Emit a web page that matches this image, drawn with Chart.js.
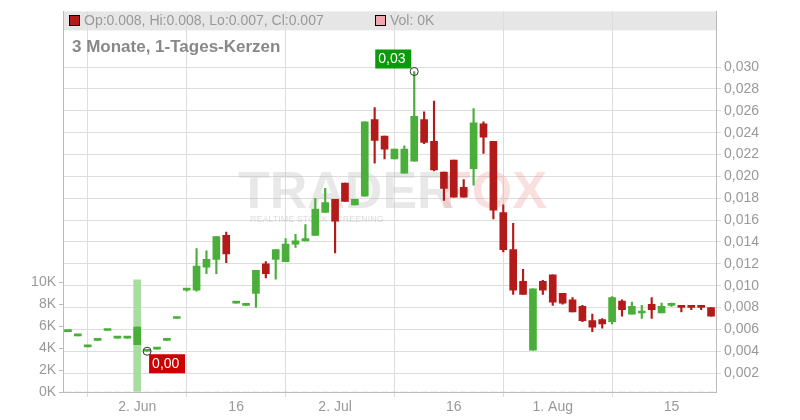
<!DOCTYPE html>
<html><head><meta charset="utf-8">
<script src="https://cdn.jsdelivr.net/npm/chart.js@4/dist/chart.umd.min.js"></script>
<style>body{margin:0;background:#fff}#wrap{width:800px;height:420px}</style>
</head><body><div id="wrap"><canvas id="c"></canvas></div>
<script>
// OHLC per trading day (index 0 = 27 May)
const opens  = [0.0058,0.0054,0.0044,0.0050,0.0059,0.0052,0.0052,0.0046,0.0040,0.0042,0.0050,0.0070,0.0096,0.0096,0.0117,0.0124,0.0146,0.0084,0.0082,0.0093,0.0120,0.0124,0.0122,0.0138,0.0141,0.0146,0.0167,0.0179,0.0194,0.0174,0.0182,0.0252,0.0237,0.0216,0.0203,0.0214,0.0252,0.0232,0.0204,0.0215,0.0190,0.0207,0.0248,0.0232,0.0167,0.0133,0.0104,0.0041,0.0104,0.0110,0.0093,0.0087,0.0081,0.0068,0.0069,0.0067,0.0086,0.0074,0.0075,0.0083,0.0075,0.0082,0.0082,0.0082,0.0082,0.0080];
const highs  = [0.0058,0.0054,0.0044,0.0050,0.0059,0.0052,0.0052,0.0062,0.0040,0.0042,0.0050,0.0070,0.0097,0.0134,0.0132,0.0145,0.0149,0.0084,0.0082,0.0114,0.0122,0.0133,0.0143,0.0147,0.0156,0.0180,0.0189,0.0179,0.0194,0.0179,0.0250,0.0263,0.0237,0.0225,0.0228,0.0296,0.0259,0.0269,0.0204,0.0215,0.0197,0.0262,0.0250,0.0232,0.0174,0.0157,0.0115,0.0097,0.0105,0.0110,0.0093,0.0089,0.0082,0.0074,0.0070,0.0090,0.0087,0.0085,0.0082,0.0089,0.0084,0.0084,0.0082,0.0082,0.0082,0.0080];
const lows   = [0.0058,0.0054,0.0044,0.0050,0.0059,0.0052,0.0052,0.0046,0.0040,0.0042,0.0050,0.0070,0.0095,0.0095,0.0111,0.0111,0.0121,0.0084,0.0082,0.0080,0.0107,0.0106,0.0122,0.0135,0.0141,0.0146,0.0167,0.0130,0.0177,0.0174,0.0182,0.0212,0.0216,0.0216,0.0203,0.0214,0.0230,0.0205,0.0178,0.0181,0.0181,0.0192,0.0221,0.0161,0.0131,0.0092,0.0092,0.0041,0.0092,0.0082,0.0083,0.0076,0.0067,0.0058,0.0061,0.0065,0.0072,0.0074,0.0070,0.0070,0.0075,0.0081,0.0076,0.0078,0.0078,0.0072];
const closes = [0.0058,0.0054,0.0044,0.0050,0.0059,0.0052,0.0052,0.0062,0.0040,0.0042,0.0050,0.0070,0.0097,0.0118,0.0124,0.0145,0.0129,0.0084,0.0082,0.0114,0.0111,0.0133,0.0138,0.0141,0.0143,0.0170,0.0176,0.0159,0.0177,0.0179,0.0250,0.0233,0.0225,0.0225,0.0225,0.0255,0.0231,0.0206,0.0189,0.0181,0.0181,0.0249,0.0236,0.0169,0.0133,0.0096,0.0092,0.0097,0.0096,0.0085,0.0084,0.0076,0.0068,0.0062,0.0065,0.0089,0.0078,0.0081,0.0076,0.0078,0.0081,0.0083,0.0080,0.0080,0.0080,0.0072];
const volumes = opens.map((v, i) => i === 7 ? 10.2 : 0); // in K, only one day traded visibly
const dateTicks = [7, 17, 27, 39, 49, 61];
const dateLabels = ['2. Jun', '16', '2. Jul', '16', '1. Aug', '15'];
const priceTicks = [0.002,0.004,0.006,0.008,0.010,0.012,0.014,0.016,0.018,0.020,0.022,0.024,0.026,0.028,0.030];
const volTicks = [0, 2, 4, 6, 8, 10];

const GREEN = '#4aae3a', RED = '#b31b1b', GREY = '#999';
const colorOf = i => closes[i] >= opens[i] ? GREEN : RED;

const wicks = opens.map((o, i) => ({ x: i, y: [lows[i], highs[i]] }));
const bodies = opens.map((o, i) => ({ x: i, y: [o, closes[i]] }));
const vols = volumes.map((v, i) => ({ x: i, y: v }));

const extras = {
  id: 'extras',
  beforeDraw(chart) {
    const { ctx, chartArea: a } = chart;
    ctx.save();
    ctx.fillStyle = '#e6e6e6';
    ctx.fillRect(a.left, a.top, a.right - a.left, 19);
    ctx.restore();
  },
  beforeDatasetsDraw(chart) {
    const { ctx } = chart;
    ctx.save();
    // watermark
    ctx.font = 'bold 52px "Liberation Sans"';
    ctx.fillStyle = 'rgba(190,190,190,0.35)';
    ctx.fillText('TRADER', 238, 208);
    ctx.fillStyle = 'rgba(240,150,150,0.3)';
    ctx.fillText('FOX', 440, 208);
    ctx.font = '9px "Liberation Sans"';
    ctx.fillStyle = 'rgba(190,190,190,0.5)';
    ctx.fillText('REALTIME STOCK SCREENING', 250, 222);
    ctx.restore();
  },
  afterDraw(chart) {
    const { ctx } = chart;
    const xs = chart.scales.x, ys = chart.scales.y;
    ctx.save();
    ctx.font = '14px "Liberation Sans"';
    ctx.textBaseline = 'middle';
    ctx.fillStyle = RED; ctx.fillRect(69, 15, 10, 10);
    ctx.strokeStyle = '#000'; ctx.lineWidth = 1; ctx.strokeRect(69.5, 15.5, 10, 10);
    ctx.fillStyle = GREY; ctx.fillText('Op:0.008, Hi:0.008, Lo:0.007, Cl:0.007', 84, 21);
    ctx.fillStyle = '#f0a8b0'; ctx.fillRect(375, 15, 10, 10);
    ctx.strokeRect(375.5, 15.5, 10, 10);
    ctx.fillStyle = GREY; ctx.fillText('Vol: 0K', 390, 21);
    ctx.font = 'bold 17px "Liberation Sans"';
    ctx.fillStyle = '#888'; ctx.fillText('3 Monate, 1-Tages-Kerzen', 72, 47);
    // high marker
    const hx = xs.getPixelForValue(35), hy = ys.getPixelForValue(highs[35]);
    ctx.strokeStyle = '#333';
    ctx.beginPath(); ctx.arc(hx, hy, 4, 0, Math.PI * 2); ctx.stroke();
    ctx.font = '14px "Liberation Sans"';
    ctx.fillStyle = '#0a9a0a'; ctx.fillRect(hx - 39, hy - 22, 36, 19);
    ctx.fillStyle = '#fff'; ctx.fillText('0,03', hx - 36, hy - 12);
    // low marker
    const lx = xs.getPixelForValue(8), ly = ys.getPixelForValue(lows[8]);
    ctx.beginPath(); ctx.arc(lx, ly, 4, 0, Math.PI * 2); ctx.stroke();
    ctx.fillStyle = '#cc0000'; ctx.fillRect(lx + 2, ly + 3, 36, 19);
    ctx.fillStyle = '#fff'; ctx.fillText('0,00', lx + 5, ly + 13);
    ctx.restore();
  }
};

new Chart(document.getElementById('c'), {
  type: 'bar',
  data: {
    datasets: [
      { data: vols, yAxisID: 'vol', backgroundColor: '#a8dca0', barThickness: 7, order: 3 },
      { data: wicks, yAxisID: 'y', backgroundColor: opens.map((o, i) => colorOf(i)), barThickness: 1.5, order: 2 },
      { data: bodies, yAxisID: 'y', backgroundColor: opens.map((o, i) => colorOf(i)), barThickness: 7, minBarLength: 2, order: 1 }
    ]
  },
  options: {
    responsive: true, maintainAspectRatio: false, animation: false,
    layout: { padding: { top: 11, left: 0, right: 0, bottom: 0 } },
    plugins: { legend: { display: false }, tooltip: { enabled: false } },
    datasets: { bar: { grouped: false } },
    scales: {
      x: {
        type: 'linear', min: -0.5, max: 65.5, offset: false,
        afterBuildTicks: s => { s.ticks = dateTicks.map(v => ({ value: v })); },
        afterFit: s => { s.height = 28; },
        ticks: { autoSkip: false, maxRotation: 0, color: GREY, font: { size: 14, family: 'Liberation Sans' }, padding: 2,
          callback: (v) => dateLabels[dateTicks.indexOf(v)] },
        grid: { color: '#ddd', tickLength: 5 },
        border: { color: '#bbb' }
      },
      y: {
        position: 'right', min: 0.00027, max: 0.0351,
        afterBuildTicks: s => { s.ticks = priceTicks.map(v => ({ value: v })); },
        afterFit: s => { s.width = 84; },
        ticks: { color: GREY, font: { size: 14, family: 'Liberation Sans' }, padding: 3,
          callback: v => v.toFixed(3).replace('.', ',') },
        grid: { color: '#ddd', tickLength: 5 },
        border: { color: '#bbb' }
      },
      vol: {
        position: 'left', min: 0, max: 34.6,
        afterBuildTicks: s => { s.ticks = volTicks.map(v => ({ value: v })); },
        afterFit: s => { s.width = 63; },
        ticks: { color: GREY, font: { size: 14, family: 'Liberation Sans' }, padding: 3, callback: v => v + 'K' },
        grid: { drawOnChartArea: false, tickLength: 4, color: '#bbb' },
        border: { color: '#bbb' }
      }
    }
  },
  plugins: [extras]
});
</script></body></html>
